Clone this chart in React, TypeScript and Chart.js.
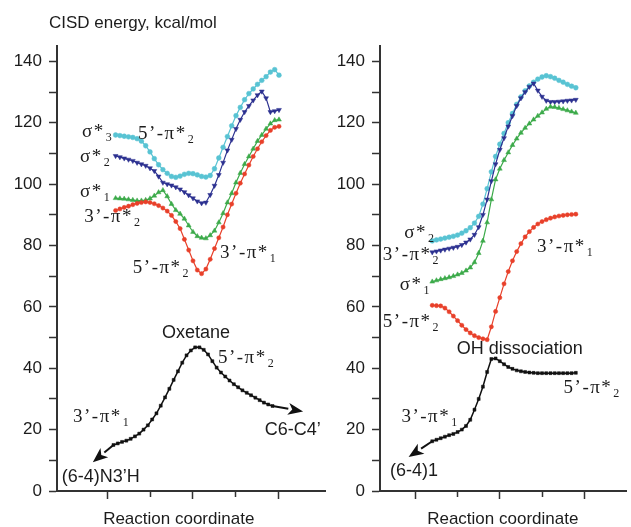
import React, { useEffect, useRef } from 'react';
import { Chart, registerables } from 'chart.js';
Chart.register(...registerables);

// ---------- shared ----------
const yTickValues = [0, 10, 20, 30, 40, 50, 60, 70, 80, 90, 100, 110, 120, 130, 140];
const xTickValues = [0, 1, 2, 3, 4];
const yMin = 0;
const yMax = 145;

// ---------- left panel: Oxetane ----------
const leftX = [0.2, 0.3, 0.4, 0.5, 0.6, 0.7, 0.8, 0.9, 1.0, 1.1, 1.2, 1.3, 1.4, 1.5, 1.6, 1.7, 1.8, 1.9, 2.0, 2.1, 2.2, 2.3, 2.4, 2.5, 2.6, 2.7, 2.8, 2.9, 3.0, 3.1, 3.2, 3.3, 3.4, 3.5, 3.6, 3.7, 3.8, 3.9, 4.0];
const leftSigma3 = [116, 115.8, 115.6, 115.4, 115.2, 114.8, 114, 112.5, 110.5, 108.3, 106.3, 104.7, 103.5, 102.5, 102.2, 102.6, 103.2, 103.5, 103.4, 103, 102.5, 102.3, 102.8, 105, 108.5, 112, 115.5, 119, 122.3, 125, 127.5, 129.5, 131, 132.5, 133.8, 135, 136.5, 137.3, 135.5];
const leftSigma2 = [109.2, 108.8, 108.4, 108, 107.6, 107, 106.5, 106, 105.2, 104.3, 102.5, 100.5, 100, 99.6, 99, 98.3, 97.4, 96.4, 95.4, 94.4, 93.8, 94, 96.5, 99.5, 103, 107, 111, 114.5, 118, 121, 123.5, 125.5, 127.3, 129, 130.2, 128, 123.5, 123.8, 124.2];
const leftSigma1 = [95.4, 95.3, 95.2, 95, 94.8, 94.6, 94.6, 94.8, 95.3, 96.2, 97.3, 98, 96, 93.5, 91.5, 90.3, 88.7, 86.5, 84.4, 83, 82.5, 82.3, 83.3, 84.8, 87.5, 90.5, 94, 97, 100.5, 103.6, 106.5, 109, 111.5, 114, 116, 118, 119.7, 120.8, 121];
const leftPi = [91.4, 91.9, 92.4, 92.8, 93.3, 93.7, 94, 94.2, 94, 93.6, 93, 92.2, 91.2, 89.8, 87.8, 85.5, 82, 78.5, 75, 72, 70.8, 72.3, 75.5, 79, 82.5, 86, 90, 93.5, 97, 100.3, 103.3, 106.2, 109, 111.5, 113.8, 115.8, 117.5, 118.5, 118.8];
const leftGroundX = [0.15, 0.25, 0.35, 0.45, 0.55, 0.65, 0.75, 0.85, 0.95, 1.05, 1.15, 1.25, 1.35, 1.45, 1.55, 1.65, 1.75, 1.85, 1.95, 2.05, 2.15, 2.25, 2.35, 2.45, 2.55, 2.65, 2.75, 2.85, 2.95, 3.05, 3.15, 3.25, 3.35, 3.45, 3.55, 3.65, 3.75, 3.85];
const leftGround = [15.0, 15.5, 16.0, 16.4, 17.0, 17.8, 18.7, 20, 21.4, 23.3, 25.3, 27.8, 30.5, 33.3, 36.2, 39.0, 41.8, 44.2, 45.8, 46.8, 46.8, 46, 44.5, 42.3, 40.2, 38.6, 37.3, 36, 34.8, 33.8, 32.8, 32, 31.2, 30.4, 29.6, 28.8, 28.2, 27.7];

// ---------- right panel: OH dissociation ----------
const rightX = [0.4, 0.5, 0.6, 0.7, 0.8, 0.9, 1.0, 1.1, 1.2, 1.3, 1.4, 1.5, 1.6, 1.7, 1.8, 1.9, 2.0, 2.1, 2.2, 2.3, 2.4, 2.5, 2.6, 2.7, 2.8, 2.9, 3.0, 3.1, 3.2, 3.3, 3.4, 3.5, 3.6, 3.7, 3.8];
const rightSigma2 = [81.5, 81.8, 82.1, 82.4, 82.7, 83, 83.4, 84, 84.8, 85.8, 87.3, 89.5, 93.5, 98.5, 104, 109, 113, 116.5, 120, 123, 126, 128.4, 130.4, 132, 133.2, 134.2, 134.9, 135.3, 135, 134.5, 133.8, 133.2, 132.5, 131.9, 131.4];
const rightPi2 = [77.8, 78.1, 78.4, 78.7, 79, 79.3, 79.6, 80.2, 81, 82, 83.5, 86, 90, 95, 101, 106.5, 111.2, 115, 118.8, 122.2, 125.5, 128, 130, 131.7, 132.8, 130.5, 128.5, 127.2, 126.8, 126.8, 126.9, 127, 127.2, 127.3, 127.5];
const rightSigma1 = [68.2, 68.6, 69, 69.3, 69.6, 70, 70.5, 71, 71.8, 72.8, 74.5, 77.5, 81.5, 87.5, 95, 101.5, 105, 107.8, 110.3, 112.7, 114.8, 116.7, 118.3, 119.7, 121, 122.2, 123.3, 124.5, 125.2, 125.1, 124.8, 124.4, 124, 123.6, 123.2];
const rightPi5 = [60.5, 60.4, 60.3, 59.6, 58.4, 57, 55.5, 54, 52.6, 51.5, 50.6, 50, 49.6, 49.3, 53.5, 58.5, 63, 67.5, 71.5, 75, 78, 80.6, 82.8, 84.5, 85.9, 87, 87.8, 88.4, 88.9, 89.3, 89.6, 89.8, 90, 90.1, 90.2];
const rightGround = [16.2, 16.7, 17.2, 17.7, 18.2, 18.6, 19.2, 20, 21.2, 23.2, 26.5, 30, 34, 38.8, 43, 43.2, 42.3, 41.3, 40.4, 39.8, 39.3, 39, 38.8, 38.6, 38.5, 38.4, 38.4, 38.4, 38.4, 38.4, 38.4, 38.4, 38.4, 38.4, 38.5];

// ---------- styling ----------
const CYAN = '#58c3d3';
const NAVY = '#2c3190';
const GREEN = '#3caa4a';
const RED = '#e8402a';
const BLACK = '#111111';
const TEXT = '#1c1c1c';
const AXIS = '#333333';

type Series = { xs: number[]; ys: number[]; color: string; style: string; rot?: number; r: number; bw: number };
type Label = { text: string; sub?: string; x: number; y: number; kind: 'serif' | 'sans' | 'title' };
type Arrow = { from: [number, number]; to: [number, number] };
type PanelCfg = {
  left: number; width: number; yAxisWidth: number; padRight: number;
  xMin: number; xMax: number; series: Series[]; labels: Label[]; arrows: Arrow[];
};

const leftPanel: PanelCfg = {
  left: 0, width: 330, yAxisWidth: 57, padRight: 5,
  xMin: -1.163, xMax: 5.07,
  series: [
    { xs: leftGroundX, ys: leftGround, color: BLACK, style: 'rect', r: 2.1, bw: 1.5 },
    { xs: leftX, ys: leftPi, color: RED, style: 'circle', r: 2.1, bw: 1.2 },
    { xs: leftX, ys: leftSigma1, color: GREEN, style: 'triangle', r: 2.8, bw: 1.2 },
    { xs: leftX, ys: leftSigma2, color: NAVY, style: 'triangle', rot: 180, r: 2.8, bw: 1.2 },
    { xs: leftX, ys: leftSigma3, color: CYAN, style: 'circle', r: 2.4, bw: 1.2 },
  ],
  labels: [
    { text: 'CISD energy, kcal/mol', x: -1.35, y: 150.8, kind: 'title' },
    { text: 'σ*', sub: '3', x: -0.58, y: 115.3, kind: 'serif' },
    { text: '5’-π*', sub: '2', x: 0.72, y: 114.7, kind: 'serif' },
    { text: 'σ*', sub: '2', x: -0.63, y: 107.2, kind: 'serif' },
    { text: 'σ*', sub: '1', x: -0.63, y: 95.8, kind: 'serif' },
    { text: '3’-π*', sub: '2', x: -0.53, y: 87.6, kind: 'serif' },
    { text: '5’-π*', sub: '2', x: 0.6, y: 71.0, kind: 'serif' },
    { text: '3’-π*', sub: '1', x: 2.63, y: 75.9, kind: 'serif' },
    { text: 'Oxetane', x: 1.28, y: 49.8, kind: 'sans' },
    { text: '5’-π*', sub: '2', x: 2.58, y: 41.7, kind: 'serif' },
    { text: '3’-π*', sub: '1', x: -0.79, y: 22.5, kind: 'serif' },
    { text: 'C6-C4’', x: 3.67, y: 18.2, kind: 'sans' },
    { text: '(6-4)N3’H', x: -1.05, y: 2.9, kind: 'sans' },
    { text: 'Reaction coordinate', x: -0.09, y: -10.7, kind: 'title' },
  ],
  arrows: [
    { from: [0.15, 15.0], to: [-0.33, 9.4] },
    { from: [3.85, 27.7], to: [4.56, 25.9] },
  ],
};

const rightPanel: PanelCfg = {
  left: 330, width: 301, yAxisWidth: 50, padRight: 0,
  xMin: -0.837, xMax: 5.0,
  series: [
    { xs: rightX, ys: rightGround, color: BLACK, style: 'rect', r: 2.1, bw: 1.5 },
    { xs: rightX, ys: rightPi5, color: RED, style: 'circle', r: 2.1, bw: 1.2 },
    { xs: rightX, ys: rightSigma1, color: GREEN, style: 'triangle', r: 2.8, bw: 1.2 },
    { xs: rightX, ys: rightPi2, color: NAVY, style: 'triangle', rot: 180, r: 2.8, bw: 1.2 },
    { xs: rightX, ys: rightSigma2, color: CYAN, style: 'circle', r: 2.4, bw: 1.2 },
  ],
  labels: [
    { text: 'σ*', sub: '2', x: -0.26, y: 82.4, kind: 'serif' },
    { text: '3’-π*', sub: '2', x: -0.77, y: 75.2, kind: 'serif' },
    { text: 'σ*', sub: '1', x: -0.37, y: 65.5, kind: 'serif' },
    { text: '5’-π*', sub: '2', x: -0.77, y: 53.4, kind: 'serif' },
    { text: '3’-π*', sub: '1', x: 2.88, y: 77.9, kind: 'serif' },
    { text: 'OH dissociation', x: 0.98, y: 44.6, kind: 'sans' },
    { text: '5’-π*', sub: '2', x: 3.51, y: 31.9, kind: 'serif' },
    { text: '3’-π*', sub: '1', x: -0.33, y: 22.5, kind: 'serif' },
    { text: '(6-4)1', x: -0.6, y: 4.9, kind: 'sans' },
    { text: 'Reaction coordinate', x: 0.28, y: -10.7, kind: 'title' },
  ],
  arrows: [
    { from: [0.4, 16.2], to: [-0.16, 11.1] },
  ],
};

function annotationPlugin(cfg: PanelCfg) {
  return {
    id: 'annotations',
    afterDraw(chart: any) {
      const { ctx } = chart;
      const xs = chart.scales.x;
      const ys = chart.scales.y;
      ctx.save();
      // arrows
      cfg.arrows.forEach((a) => {
        const x1 = xs.getPixelForValue(a.from[0]);
        const y1 = ys.getPixelForValue(a.from[1]);
        const x2 = xs.getPixelForValue(a.to[0]);
        const y2 = ys.getPixelForValue(a.to[1]);
        const ang = Math.atan2(y2 - y1, x2 - x1);
        const headLen = 15;
        const headW = 6;
        const bx = x2 - headLen * Math.cos(ang);
        const by = y2 - headLen * Math.sin(ang);
        ctx.strokeStyle = BLACK;
        ctx.lineWidth = 2;
        ctx.beginPath();
        ctx.moveTo(x1, y1);
        ctx.lineTo(bx, by);
        ctx.stroke();
        ctx.fillStyle = BLACK;
        ctx.beginPath();
        ctx.moveTo(x2, y2);
        ctx.lineTo(bx + headW * Math.sin(ang), by - headW * Math.cos(ang));
        ctx.lineTo(bx + 4 * Math.cos(ang), by + 4 * Math.sin(ang));
        ctx.lineTo(bx - headW * Math.sin(ang), by + headW * Math.cos(ang));
        ctx.closePath();
        ctx.fill();
      });
      // labels
      ctx.textBaseline = 'alphabetic';
      ctx.textAlign = 'left';
      ctx.fillStyle = TEXT;
      cfg.labels.forEach((l) => {
        const px = xs.getPixelForValue(l.x);
        const py = ys.getPixelForValue(l.y);
        if (l.kind === 'serif') {
          ctx.font = '19px "Liberation Serif", "Times New Roman", serif';
          (ctx as any).letterSpacing = '1.5px';
          ctx.fillText(l.text, px, py);
          const w = ctx.measureText(l.text).width;
          if (l.sub) {
            ctx.font = '12px "Liberation Serif", "Times New Roman", serif';
            (ctx as any).letterSpacing = '0px';
            ctx.fillText(l.sub, px + w + 1, py + 4);
          }
          (ctx as any).letterSpacing = '0px';
        } else if (l.kind === 'sans') {
          ctx.font = '18px "Liberation Sans", Arial, sans-serif';
          ctx.fillText(l.text, px, py);
        } else {
          ctx.font = '17px "Liberation Sans", Arial, sans-serif';
          ctx.fillText(l.text, px, py);
        }
      });
      ctx.restore();
    },
  };
}

function makeConfig(cfg: PanelCfg): any {
  return {
    type: 'line',
    data: {
      datasets: cfg.series.map((s) => ({
        data: s.xs.map((x, i) => ({ x, y: s.ys[i] })),
        borderColor: s.color,
        backgroundColor: s.color,
        borderWidth: s.bw,
        pointStyle: s.style,
        pointRotation: s.rot || 0,
        pointRadius: s.r,
        pointBorderWidth: 0.5,
        pointBorderColor: s.color,
        pointBackgroundColor: s.color,
        tension: 0,
        fill: false,
      })),
    },
    options: {
      responsive: false,
      animation: false,
      layout: { padding: { top: 46, right: cfg.padRight, left: 0, bottom: 0 } },
      plugins: { legend: { display: false }, tooltip: { enabled: false }, title: { display: false } },
      scales: {
        x: {
          type: 'linear',
          min: cfg.xMin,
          max: cfg.xMax,
          afterBuildTicks: (s: any) => { s.ticks = xTickValues.map((v) => ({ value: v })); },
          afterFit: (s: any) => { s.height = 36; },
          ticks: { callback: () => '', autoSkip: false, maxRotation: 0 },
          grid: {
            drawOnChartArea: false,
            drawTicks: true,
            tickLength: 8,
            tickColor: AXIS,
            tickWidth: 1.5,
            tickBorderDash: (c: any) => (c.tick && c.tick.value % 2 !== 0 ? [5, 100] : []),
          },
          border: { display: true, color: AXIS, width: 2 },
        },
        y: {
          type: 'linear',
          min: yMin,
          max: yMax,
          afterBuildTicks: (s: any) => { s.ticks = yTickValues.map((v) => ({ value: v })); },
          afterFit: (s: any) => { s.width = cfg.yAxisWidth; },
          ticks: {
            autoSkip: false,
            padding: 7,
            color: TEXT,
            font: { family: '"Liberation Sans", Arial, sans-serif', size: 17 },
            callback: (v: any) => (Number(v) % 20 === 0 ? String(v) : ''),
          },
          grid: {
            drawOnChartArea: false,
            drawTicks: true,
            tickLength: 8,
            tickColor: AXIS,
            tickWidth: 1.5,
          },
          border: { display: true, color: AXIS, width: 2 },
        },
      },
    },
    plugins: [annotationPlugin(cfg)],
  };
}

function Panel({ cfg }: { cfg: PanelCfg }) {
  const ref = useRef<HTMLCanvasElement | null>(null);
  useEffect(() => {
    if (!ref.current) return;
    const chart = new Chart(ref.current, makeConfig(cfg));
    return () => chart.destroy();
  }, [cfg]);
  return (
    <canvas
      ref={ref}
      width={cfg.width}
      height={527}
      style={{ position: 'absolute', left: cfg.left, top: 0, width: cfg.width, height: 527 }}
    />
  );
}

export default function App() {
  return (
    <div style={{ position: 'fixed', left: 0, top: 0, width: 631, height: 527, background: '#ffffff', overflow: 'hidden' }}>
      <Panel cfg={leftPanel} />
      <Panel cfg={rightPanel} />
    </div>
  );
}
